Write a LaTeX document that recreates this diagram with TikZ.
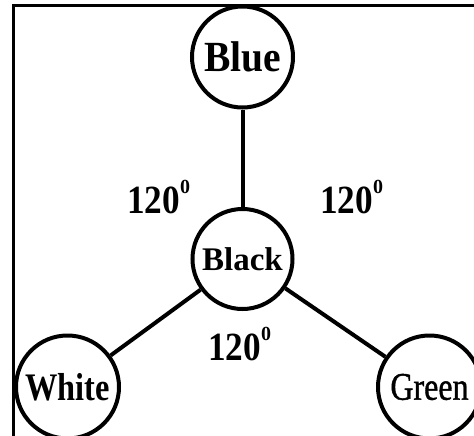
\documentclass[tikz,border=0pt]{standalone}
\usepackage{fontspec}
\setmainfont{Liberation Serif}
\newfontfamily\greenfont[FakeBold=1.2]{Liberation Serif}
\newcommand{\degsym}{\raisebox{20pt}{\fontsize{20}{20}\selectfont 0}}
\begin{document}
\begin{tikzpicture}[x=1pt,y=-1pt,
  colnode/.style={draw=black,line width=4pt,circle,inner sep=0pt,minimum size=101pt,fill=white},
  link/.style={line width=4pt},
  anglab/.style={inner sep=0pt,anchor=base west,font=\bfseries\fontsize{40}{40}\selectfont}]
\useasboundingbox (0,0) rectangle (474,436);
\draw[line width=3pt] (13.5,440) -- (13.5,5.5) -- (480,5.5);
\node[colnode] (blue) at (242.5,57) {\bfseries\fontsize{43}{43}\selectfont\scalebox{0.92}[1]{Blue}};
\node[colnode,minimum size=100pt] (black) at (242.5,259) {\bfseries\fontsize{33}{33}\selectfont Black};
\node[colnode,minimum size=103pt] (white) at (67.5,387) {\bfseries\fontsize{39}{39}\selectfont\scalebox{0.83}[1]{White}};
\node[colnode,minimum size=103pt] (green) at (429.5,387) {\greenfont\fontsize{39}{39}\selectfont\scalebox{0.82}[1]{Green}};
\draw[link] (blue) -- (black);
\draw[link] (black) -- (white);
\draw[link] (black) -- (green);
\node[anglab] (l1) at (127,213) {\scalebox{0.88}[1]{120}\degsym};
\node[anglab] (l2) at (320,213) {\scalebox{0.88}[1]{120}\degsym};
\node[anglab] (l3) at (208,360) {\scalebox{0.88}[1]{120}\degsym};
\end{tikzpicture}
\end{document}
